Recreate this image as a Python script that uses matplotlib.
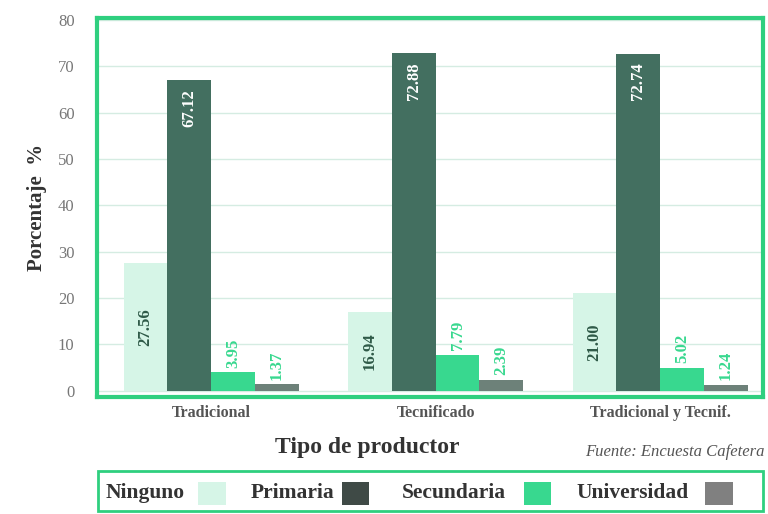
import numpy as np
import matplotlib
matplotlib.use('Agg')
import matplotlib.pyplot as plt
from matplotlib.patches import Rectangle

plt.rcParams['font.family'] = 'Liberation Serif'

#data
groups = ['Tradicional', 'Tecnificado', 'Tradicional y Tecnif.']
ninguno = [27.56, 16.94, 21.00]
primaria = [67.12, 72.88, 72.74]
secundaria = [3.95, 7.79, 5.02]
universidad = [1.37, 2.39, 1.24]
series_names = ['Ninguno', 'Primaria', 'Secundaria', 'Universidad']
yticks = [0, 10, 20, 30, 40, 50, 60, 70, 80]

#colors
c_ning = '#d6f5e7'
c_prim = '#436f60'
c_sec = '#38d88f'
c_univ = '#6d8179'
c_frame = '#2fcf7f'
colors = [c_ning, c_prim, c_sec, c_univ]

fig = plt.figure(figsize=(7.68, 5.14), dpi=100)
ax = fig.add_axes([0.126, 0.228, 0.868, 0.737])

x = np.arange(len(groups))
w = 0.195
offsets = [-1.5 * w, -0.5 * w, 0.5 * w, 1.5 * w]
all_series = [ninguno, primaria, secundaria, universidad]

for vals, off, col in zip(all_series, offsets, colors):
    ax.bar(x + off, vals, width=w, color=col, zorder=2)

#value labels
for i in range(len(groups)):
    ax.text(x[i] + offsets[0], ninguno[i] / 2, '%.2f' % ninguno[i], rotation=90,
            ha='center', va='center', fontsize=12, fontweight='bold', color='#2f5a48', zorder=3)
    ax.text(x[i] + offsets[1], primaria[i] - 2, '%.2f' % primaria[i], rotation=90,
            ha='center', va='top', fontsize=12, fontweight='bold', color='white', zorder=3)
    ax.text(x[i] + offsets[2], secundaria[i] + 1, '%.2f' % secundaria[i], rotation=90,
            ha='center', va='bottom', fontsize=12, fontweight='bold', color=c_sec, zorder=3)
    ax.text(x[i] + offsets[3], universidad[i] + 1, '%.2f' % universidad[i], rotation=90,
            ha='center', va='bottom', fontsize=12, fontweight='bold', color=c_sec, zorder=3)

ax.set_xlim(-0.51, 2.46)
ax.set_ylim(-1.3, 80.4)
ax.set_yticks(yticks)
ax.set_yticklabels([str(t) for t in yticks], color='#777777', fontsize=12)
ax.yaxis.grid(True, color='#d5ece2', lw=1, zorder=0)
ax.set_xticks(x)
ax.set_xticklabels(groups, fontsize=11.5, fontweight='bold', color='#555555')
ax.tick_params(axis='both', length=0)
ax.tick_params(axis='y', pad=16)
ax.tick_params(axis='x', pad=6)
for s in ax.spines.values():
    s.set_color(c_frame)
    s.set_linewidth(3)

ax.set_ylabel('Porcentaje  %', fontsize=15, fontweight='bold', color='#333333', labelpad=8)

fig.text(0.478, 0.13, 'Tipo de productor', ha='center', va='center',
         fontsize=17, fontweight='bold', color='#333333')
fig.text(0.995, 0.12, 'Fuente: Encuesta Cafetera', ha='right', va='center',
         fontsize=12, style='italic', color='#555555')

#legend box drawn by hand
fig.patches.append(Rectangle((0.127, 0.006), 0.866, 0.078, transform=fig.transFigure,
                             fill=False, edgecolor=c_frame, lw=2))
legend_colors = [c_ning, '#3f4a46', c_sec, '#808080']
text_x = [0.137, 0.326, 0.523, 0.751]
patch_x = [0.258, 0.445, 0.682, 0.918]
for name, tx, px, col in zip(series_names, text_x, patch_x, legend_colors):
    fig.text(tx, 0.040, name, ha='left', va='center', fontsize=15.5,
             fontweight='bold', color='#333333')
    fig.patches.append(Rectangle((px, 0.018), 0.036, 0.044, transform=fig.transFigure,
                                 facecolor=col, edgecolor='none'))

fig.savefig('out.png', dpi=100)
